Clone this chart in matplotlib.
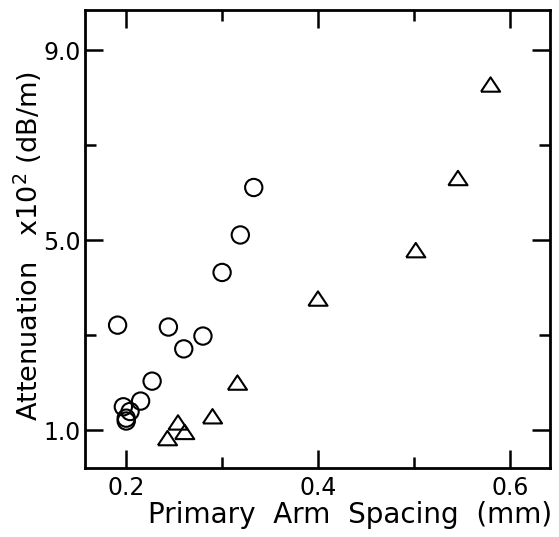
import numpy as np
import matplotlib
matplotlib.use("Agg")
import matplotlib.pyplot as plt
from matplotlib.ticker import FixedLocator

# circles
circ_x = [0.191, 0.244, 0.260, 0.280, 0.227, 0.215, 0.197, 0.204, 0.200, 0.200, 0.300, 0.319, 0.333]
circ_y = [3.21, 3.17, 2.71, 2.98, 2.03, 1.61, 1.49, 1.39, 1.25, 1.19, 4.32, 5.11, 6.11]

# triangles
tri_x = [0.243, 0.261, 0.254, 0.290, 0.316, 0.400, 0.502, 0.546, 0.580]
tri_y = [0.83, 0.96, 1.16, 1.29, 2.00, 3.77, 4.79, 6.31, 8.28]

x_major = [0.2, 0.4, 0.6]
x_minor = [0.3, 0.5]
y_major = [1.0, 5.0, 9.0]
y_minor = [3.0, 7.0]

plt.rcParams['font.family'] = 'DejaVu Sans'
fig = plt.figure(figsize=(5.59, 5.37), dpi=100)
ax = fig.add_axes([85 / 559, 1 - 468 / 537, 465 / 559, 458 / 537])

# flat open triangle, centred on its bounding box
tri = [(-1, -0.75), (1, -0.75), (0, 0.75), (-1, -0.75)]

ax.scatter(circ_x, circ_y, s=155, marker='o', facecolors='none', edgecolors='black', linewidths=1.5)
ax.scatter(tri_x, tri_y, s=190, marker=tri, facecolors='none', edgecolors='black', linewidths=1.5)

ax.set_xlim(0.157, 0.642)
ax.set_ylim(0.2, 9.85)
ax.xaxis.set_major_locator(FixedLocator(x_major))
ax.xaxis.set_minor_locator(FixedLocator(x_minor))
ax.yaxis.set_major_locator(FixedLocator(y_major))
ax.yaxis.set_minor_locator(FixedLocator(y_minor))
ax.set_xticklabels(['0.2', '0.4', '0.6'])
ax.set_yticklabels(['1.0', '5.0', '9.0'])

ax.tick_params(which='both', direction='in', top=True, right=True, width=1.8, labelsize=17, color='black')
ax.tick_params(which='major', length=13)
ax.tick_params(which='minor', length=8)
ax.tick_params(axis='x', which='major', pad=6)
ax.tick_params(axis='y', which='major', pad=3)
for sp in ax.spines.values():
    sp.set_linewidth(2)

ax.set_xlabel('Primary  Arm  Spacing  (mm)', fontsize=20)
ax.set_ylabel('Attenuation   x10$^2$ (dB/m)', fontsize=19.5)
ax.xaxis.set_label_coords((350 - 85) / 465, -(501 - 468) / 458)
ax.yaxis.set_label_coords(-(85 - 44) / 465, (468 - 246) / 458)

fig.savefig('out.png', dpi=100)
